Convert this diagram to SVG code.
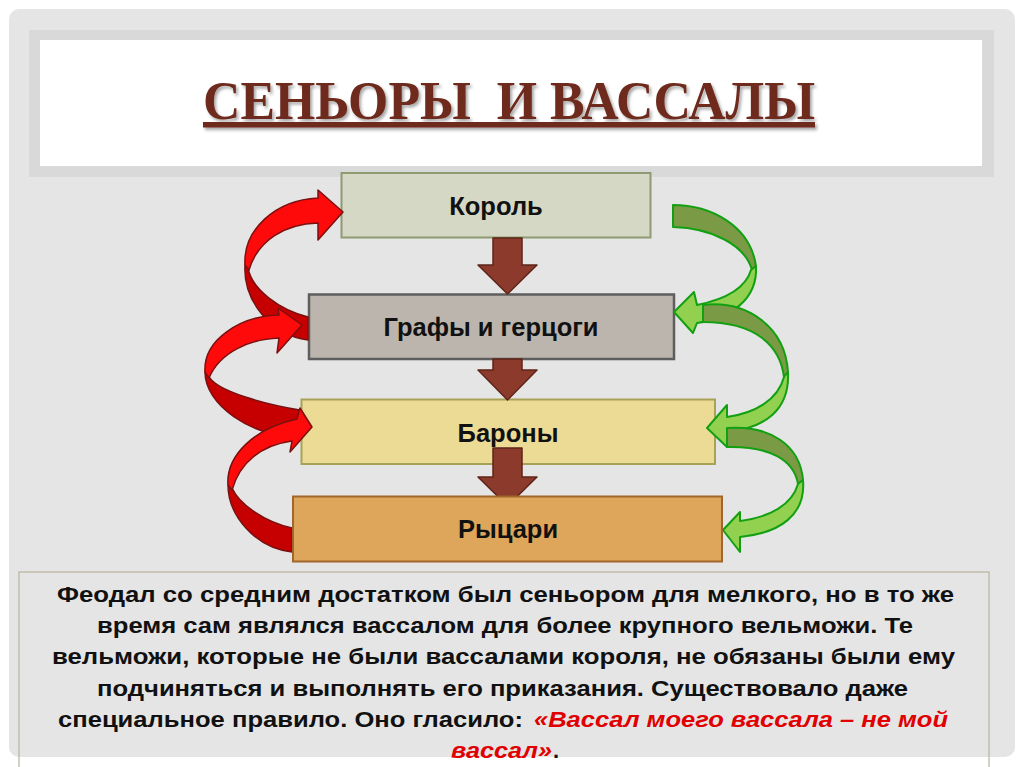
<svg xmlns="http://www.w3.org/2000/svg" width="1024" height="767" viewBox="0 0 1024 767">
<defs>
<filter id="tsh" x="-5%" y="-20%" width="110%" height="150%">
<feDropShadow dx="2" dy="2.5" stdDeviation="1.5" flood-color="#000" flood-opacity="0.35"/>
</filter>
</defs>
<style>
.lbl{font-family:"Liberation Sans",Arial,sans-serif;font-weight:bold;font-size:25.5px;fill:#111;text-anchor:middle}
.body{font-family:"Liberation Sans",Arial,sans-serif;font-weight:bold;font-size:22px;fill:#111}
.red{fill:#e00000;font-style:italic}
.rback{fill:#c60000;stroke:#7a1010;stroke-width:1.5;stroke-linejoin:round}
.rfront{fill:#ff0a0a;stroke:#7a1010;stroke-width:1.5;stroke-linejoin:round}
.gback{fill:#7b9a45;stroke:#12a012;stroke-width:2;stroke-linejoin:round}
.gfront{fill:#92d050;stroke:#12a012;stroke-width:2;stroke-linejoin:round}
.down{fill:#8c3a2c;stroke:#5e2418;stroke-width:1.5;stroke-linejoin:round}
</style>
<rect x="0" y="0" width="1024" height="767" fill="#ffffff"/>
<rect x="9" y="9" width="1006" height="748" rx="10" fill="#e5e5e5"/>
<g id="title">
<rect x="29" y="30" width="965" height="147" fill="#d9d9d9"/>
<rect x="40" y="40" width="942" height="126" fill="#ffffff"/>
<text x="203" y="119" xml:space="preserve" textLength="612" lengthAdjust="spacingAndGlyphs" filter="url(#tsh)" text-decoration="underline" style="font-family:'Liberation Serif','Times New Roman',serif;font-weight:bold;font-size:55px;fill:#6e2a1f">СЕНЬОРЫ  И ВАССАЛЫ</text>
</g>
<g id="node-korol">
<rect x="341.5" y="173" width="309" height="64.5" fill="#d4d8c5" stroke="#8e9a70" stroke-width="2"/>
<text class="lbl" x="496" y="215">Король</text>
</g>
<g id="node-grafy">
<rect x="309" y="294.5" width="365" height="64.5" fill="#bcb5ad" stroke="#5e5e5e" stroke-width="2.5"/>
<text class="lbl" x="491" y="336">Графы и герцоги</text>
</g>
<g id="node-barony">
<rect x="301.5" y="399.5" width="413.5" height="64.5" fill="#ecdb95" stroke="#a8a256" stroke-width="2"/>
<text class="lbl" x="508" y="442">Бароны</text>
</g>
<g id="connectors">
<path class="down" d="M493,238 L522,238 L522,265 L537,265 L507.5,294 L478,265 L493,265 Z"/>
<path class="down" d="M493,359 L522,359 L522,370 L537,370 L507.5,400 L478,370 L493,370 Z"/>
<path class="down" d="M493,448 L522,448 L522,477 L537,477 L507.5,506 L478,477 L493,477 Z"/>
<path class="rback" d="M308,317 C280,310 252,290 248,268 L245,265 C243,300 270,335 308,340 Z"/>
<path class="rfront" d="M245,265 C243,230 275,200 318,198 L318,190 L343,212 L318,240 L318,223 C285,224 258,240 249,270 Z"/>
<path class="rback" d="M300,410 C270,405 215,392 208,375 L205,372 C205,405 250,436 300,438 Z"/>
<path class="rfront" d="M205,372 C203,340 240,316 279,315 L278,308 L302,325 L277,353 L279,338 C250,339 220,352 209,378 Z"/>
<path class="rback" d="M292,528 C265,522 240,505 232,488 L228,485 C228,515 255,548 292,552 Z"/>
<path class="rfront" d="M228,485 C226,455 255,428 297,419 L300,408 L312,427 L290,452 L292,441 C262,445 240,462 232,490 Z"/>
<path class="gback" d="M673,205 C710,205 750,225 756,266 L752,270 C745,245 712,228 673,227 Z"/>
<path class="gfront" d="M756,266 C758,300 730,318 697,323 L693,333 L674,312 L694,292 L697,305 C722,300 745,290 751,270 Z"/>
<path class="gback" d="M703,305 C745,300 785,325 788,372 L784,377 C780,345 755,322 703,322 Z"/>
<path class="gfront" d="M788,372 C790,410 765,428 727,432 L727,447 L707,428 L727,405 L727,417 C755,413 778,400 784,377 Z"/>
<path class="gback" d="M727,428 C770,425 800,445 803,480 L798,484 C794,460 770,446 727,447 Z"/>
<path class="gfront" d="M803,480 C806,515 780,533 740,537 L740,552 L723,530 L740,512 L740,521 C770,517 792,505 798,484 Z"/>
</g>
<g id="node-rytsari">
<rect x="293" y="496.5" width="429" height="65" fill="#dea65b" stroke="#a2652b" stroke-width="2"/>
<text class="lbl" x="508" y="538">Рыцари</text>
</g>
<g id="note">
<rect x="19" y="572" width="970" height="230" fill="none" stroke="#b5b39a" stroke-width="1.2"/>
<text class="body" x="57" y="602" textLength="897" lengthAdjust="spacingAndGlyphs">Феодал со средним достатком был сеньором для мелкого, но в то же</text>
<text class="body" x="97" y="633" textLength="816" lengthAdjust="spacingAndGlyphs">время сам являлся вассалом для более крупного вельможи. Те</text>
<text class="body" x="52" y="664" textLength="903" lengthAdjust="spacingAndGlyphs">вельможи, которые не были вассалами короля, не обязаны были ему</text>
<text class="body" x="97" y="696" textLength="811" lengthAdjust="spacingAndGlyphs">подчиняться и выполнять его приказания. Существовало даже</text>
<text class="body" x="58" y="727" textLength="465" lengthAdjust="spacingAndGlyphs">специальное правило. Оно гласило:</text>
<text class="body red" x="534" y="727" textLength="414" lengthAdjust="spacingAndGlyphs">«Вассал моего вассала – не мой</text>
<text class="body red" x="451" y="758" textLength="101" lengthAdjust="spacingAndGlyphs">вассал»</text>
<text class="body" x="553" y="758">.</text>
</g>
</svg>
